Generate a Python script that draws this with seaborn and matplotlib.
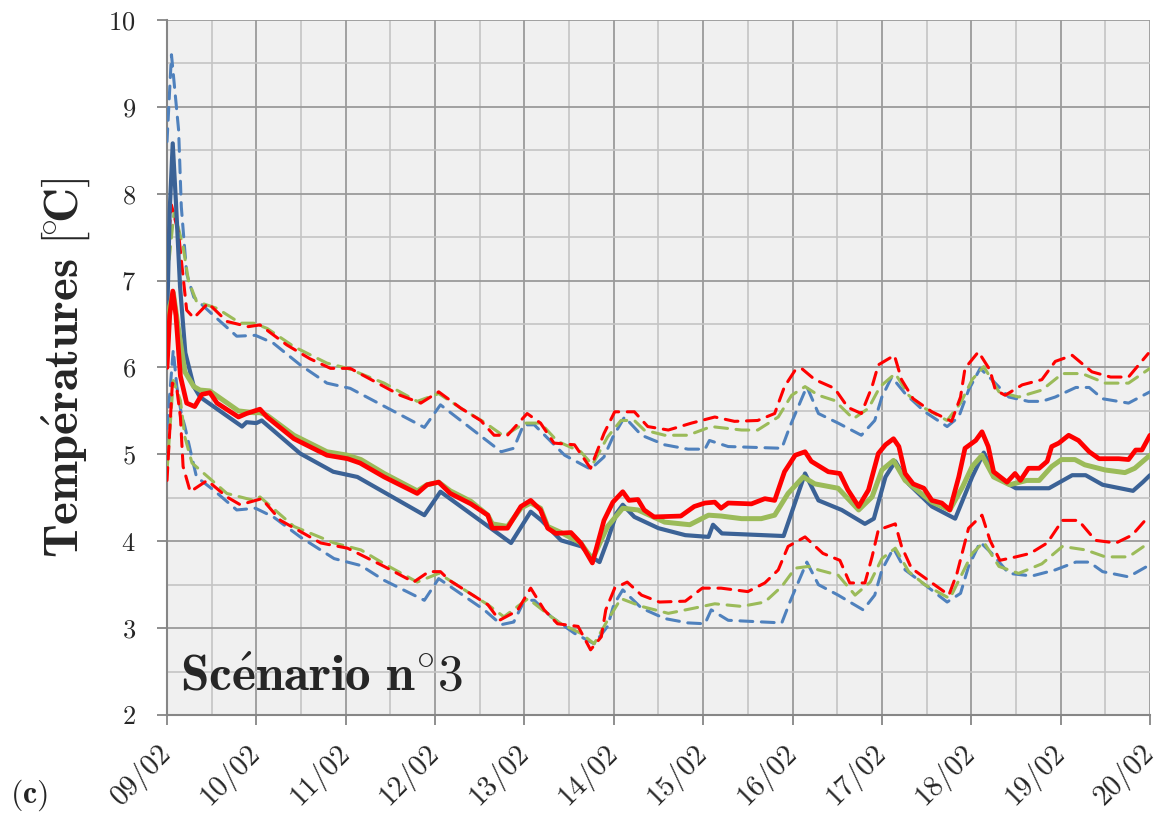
import matplotlib
matplotlib.use("Agg")
import matplotlib.pyplot as plt
import seaborn as sns
from matplotlib.ticker import MultipleLocator

# ---------------------------------------------------------------------------
# Data (time in days since 09/02, temperatures in °C)
# ---------------------------------------------------------------------------
day_labels = ["09/02", "10/02", "11/02", "12/02", "13/02", "14/02",
              "15/02", "16/02", "17/02", "18/02", "19/02", "20/02"]

t_bleu = [0, 0.03, 0.064, 0.10, 0.146, 0.205, 0.30, 0.37, 0.84, 0.89,
          1.0, 1.06, 1.49, 1.86, 2.13, 2.88, 3.06, 3.85, 4.07, 4.19,
          4.41, 4.64, 4.75, 4.84, 4.93, 5.03, 5.10, 5.23, 5.50, 5.80,
          6.06, 6.11, 6.21, 6.90, 7.14, 7.29, 7.55, 7.81, 7.91, 8.04,
          8.15, 8.30, 8.56, 8.82, 9.01, 9.14, 9.27, 9.50, 9.87, 10.13,
          10.28, 10.47, 10.81, 10.92, 11.0]
bleu = [6.5, 7.8, 8.58, 7.9, 6.93, 6.17, 5.78, 5.66, 5.32, 5.37,
        5.36, 5.39, 5.01, 4.80, 4.74, 4.30, 4.57, 3.98, 4.34, 4.24,
        4.01, 3.94, 3.82, 3.76, 4.01, 4.32, 4.42, 4.28, 4.15, 4.07,
        4.05, 4.19, 4.09, 4.06, 4.78, 4.47, 4.36, 4.20, 4.26, 4.74,
        4.92, 4.66, 4.40, 4.26, 4.74, 5.02, 4.74, 4.61, 4.61, 4.76,
        4.76, 4.65, 4.58, 4.68, 4.76]

t_vert = [0, 0.03, 0.07, 0.12, 0.20, 0.30, 0.37, 0.48, 0.80, 0.97,
          1.04, 1.12, 1.42, 1.79, 2.02, 2.17, 2.43, 2.80, 2.91, 3.04,
          3.17, 3.40, 3.59, 3.64, 3.81, 3.96, 4.07, 4.18, 4.26, 4.41,
          4.63, 4.76, 4.93, 5.10, 5.27, 5.57, 5.85, 6.06, 6.20, 6.43,
          6.65, 6.80, 6.95, 7.12, 7.25, 7.51, 7.74, 7.89, 8.00, 8.13,
          8.26, 8.56, 8.76, 8.90, 9.01, 9.12, 9.25, 9.43, 9.62, 9.76,
          9.90, 10.01, 10.16, 10.27, 10.50, 10.72, 10.83, 11.0]
vert = [6.2, 6.7, 6.86, 6.5, 5.95, 5.78, 5.74, 5.73, 5.50, 5.48,
        5.48, 5.45, 5.22, 5.03, 4.99, 4.94, 4.78, 4.58, 4.65, 4.68,
        4.58, 4.46, 4.30, 4.20, 4.17, 4.38, 4.44, 4.38, 4.17, 4.10,
        3.98, 3.79, 4.17, 4.38, 4.36, 4.22, 4.19, 4.30, 4.29, 4.26,
        4.26, 4.30, 4.55, 4.74, 4.66, 4.61, 4.36, 4.51, 4.82, 4.93,
        4.70, 4.45, 4.36, 4.62, 4.86, 4.99, 4.74, 4.65, 4.70, 4.70,
        4.86, 4.94, 4.94, 4.88, 4.82, 4.79, 4.84, 4.99]

t_rouge = [0, 0.03, 0.065, 0.10, 0.15, 0.22, 0.31, 0.39, 0.48, 0.56,
           0.80, 0.89, 1.04, 1.12, 1.42, 1.79, 2.02, 2.16, 2.43, 2.80,
           2.91, 3.04, 3.17, 3.40, 3.59, 3.64, 3.81, 3.96, 4.07, 4.18,
           4.26, 4.35, 4.52, 4.63, 4.76, 4.89, 4.99, 5.10, 5.17, 5.27,
           5.34, 5.45, 5.75, 5.90, 6.02, 6.13, 6.20, 6.28, 6.54, 6.69,
           6.80, 6.91, 7.03, 7.14, 7.21, 7.40, 7.53, 7.62, 7.74, 7.85,
           7.96, 8.04, 8.13, 8.19, 8.26, 8.35, 8.47, 8.56, 8.67, 8.76,
           8.86, 8.93, 9.05, 9.12, 9.19, 9.25, 9.40, 9.49, 9.55, 9.64,
           9.76, 9.85, 9.90, 9.98, 10.09, 10.20, 10.32, 10.43, 10.65, 10.76,
           10.84, 10.91, 11.0]
rouge = [6.0, 6.6, 6.88, 6.6, 5.9, 5.59, 5.55, 5.69, 5.71, 5.59,
         5.43, 5.47, 5.52, 5.43, 5.18, 4.99, 4.95, 4.90, 4.74, 4.55,
         4.65, 4.68, 4.55, 4.43, 4.30, 4.15, 4.15, 4.40, 4.47, 4.36,
         4.15, 4.09, 4.10, 3.98, 3.75, 4.24, 4.45, 4.57, 4.47, 4.48,
         4.36, 4.28, 4.29, 4.40, 4.44, 4.45, 4.38, 4.44, 4.43, 4.49,
         4.47, 4.80, 4.99, 5.03, 4.92, 4.80, 4.78, 4.59, 4.40, 4.59,
         5.01, 5.11, 5.18, 5.09, 4.78, 4.66, 4.61, 4.47, 4.44, 4.36,
         4.74, 5.07, 5.16, 5.26, 5.09, 4.80, 4.68, 4.78, 4.70, 4.84,
         4.84, 4.92, 5.09, 5.13, 5.22, 5.16, 5.03, 4.95, 4.95, 4.94,
         5.05, 5.05, 5.22]

t_bleu_max = [0, 0.05, 0.13, 0.16, 0.22, 0.30, 0.52, 0.78, 0.99, 1.19,
              1.49, 1.79, 2.05, 2.88, 3.06, 3.74, 3.88, 3.99, 4.11, 4.45,
              4.74, 4.89, 4.99, 5.12, 5.31, 5.57, 5.83, 6.02, 6.07, 6.28,
              6.88, 6.97, 7.16, 7.29, 7.51, 7.77, 7.92, 8.00, 8.11, 8.26,
              8.48, 8.73, 8.86, 8.97, 9.10, 9.23, 9.42, 9.64, 9.79, 9.94,
              10.17, 10.32, 10.47, 10.76, 11.0]
bleu_max = [8.6, 9.6, 8.73, 7.85, 7.08, 6.81, 6.60, 6.36, 6.37, 6.28,
            6.03, 5.82, 5.76, 5.31, 5.57, 5.03, 5.07, 5.34, 5.34, 4.99,
            4.83, 4.97, 5.20, 5.43, 5.22, 5.11, 5.06, 5.06, 5.16, 5.09,
            5.07, 5.32, 5.78, 5.47, 5.36, 5.22, 5.39, 5.66, 5.89, 5.70,
            5.49, 5.32, 5.43, 5.74, 5.99, 5.86, 5.66, 5.61, 5.61, 5.66,
            5.77, 5.77, 5.64, 5.59, 5.72]

t_vert_max = [0, 0.08, 0.18, 0.24, 0.33, 0.56, 0.82, 0.97, 1.12, 1.42,
              1.79, 2.02, 2.43, 2.80, 3.04, 3.29, 3.55, 3.77, 4.00, 4.18,
              4.37, 4.63, 4.76, 4.93, 5.08, 5.23, 5.34, 5.57, 5.83, 6.09,
              6.43, 6.61, 6.84, 6.99, 7.14, 7.29, 7.47, 7.68, 7.85, 7.98,
              8.15, 8.30, 8.48, 8.73, 8.88, 9.01, 9.14, 9.31, 9.53, 9.79,
              10.02, 10.24, 10.50, 10.76, 11.0]
vert_max = [7.0, 7.8, 7.39, 7.0, 6.76, 6.68, 6.51, 6.51, 6.45, 6.24,
            6.05, 5.99, 5.82, 5.61, 5.70, 5.53, 5.37, 5.21, 5.36, 5.36,
            5.15, 5.03, 4.88, 5.20, 5.39, 5.39, 5.28, 5.22, 5.22, 5.32,
            5.28, 5.28, 5.43, 5.68, 5.78, 5.68, 5.62, 5.41, 5.53, 5.78,
            5.93, 5.68, 5.53, 5.39, 5.59, 5.86, 6.01, 5.72, 5.66, 5.74,
            5.93, 5.93, 5.82, 5.82, 5.99]

t_rouge_max = [0, 0.05, 0.13, 0.16, 0.22, 0.30, 0.46, 0.67, 0.91, 1.04,
               1.34, 1.60, 1.83, 2.05, 2.61, 2.84, 3.04, 3.29, 3.51, 3.66,
               3.81, 4.03, 4.18, 4.33, 4.56, 4.74, 4.89, 5.01, 5.23, 5.38,
               5.61, 5.87, 6.13, 6.35, 6.61, 6.80, 6.91, 7.03, 7.10, 7.25,
               7.47, 7.62, 7.77, 7.89, 7.96, 8.14, 8.22, 8.35, 8.56, 8.78,
               8.88, 8.93, 9.08, 9.21, 9.27, 9.38, 9.57, 9.79, 9.94, 10.13,
               10.35, 10.56, 10.76, 10.98]
rouge_max = [7.3, 7.87, 7.54, 7.24, 6.66, 6.57, 6.74, 6.53, 6.47, 6.49,
             6.26, 6.10, 5.99, 5.99, 5.68, 5.59, 5.72, 5.53, 5.39, 5.22,
             5.22, 5.47, 5.36, 5.13, 5.11, 4.84, 5.24, 5.49, 5.49, 5.32,
             5.28, 5.36, 5.43, 5.38, 5.39, 5.47, 5.78, 5.97, 5.99, 5.86,
             5.76, 5.54, 5.47, 5.78, 6.03, 6.14, 5.86, 5.64, 5.49, 5.38,
             5.66, 5.99, 6.18, 5.97, 5.74, 5.68, 5.80, 5.86, 6.07, 6.14,
             5.95, 5.89, 5.89, 6.16]

t_bleu_min = [0, 0.07, 0.11, 0.16, 0.20, 0.26, 0.33, 0.52, 0.78, 0.99,
              1.19, 1.49, 1.87, 2.17, 2.43, 2.88, 3.04, 3.55, 3.74, 3.88,
              4.00, 4.11, 4.30, 4.56, 4.78, 4.93, 5.00, 5.10, 5.31, 5.57,
              5.83, 6.02, 6.09, 6.28, 6.88, 6.97, 7.16, 7.29, 7.51, 7.79,
              7.92, 8.00, 8.13, 8.26, 8.48, 8.73, 8.88, 8.97, 9.10, 9.23,
              9.42, 9.68, 9.94, 10.17, 10.32, 10.47, 10.76, 11.0]
bleu_min = [5.3, 6.2, 5.78, 5.47, 5.32, 5.05, 4.74, 4.59, 4.36, 4.38,
            4.28, 4.05, 3.80, 3.72, 3.55, 3.32, 3.57, 3.21, 3.04, 3.07,
            3.32, 3.32, 3.13, 2.94, 2.82, 3.02, 3.27, 3.44, 3.23, 3.11,
            3.06, 3.05, 3.21, 3.09, 3.06, 3.30, 3.76, 3.50, 3.38, 3.21,
            3.38, 3.67, 3.92, 3.67, 3.50, 3.30, 3.40, 3.71, 3.99, 3.86,
            3.63, 3.60, 3.67, 3.76, 3.76, 3.65, 3.59, 3.73]

t_vert_min = [0, 0.07, 0.15, 0.20, 0.28, 0.67, 0.97, 1.04, 1.42, 1.87,
              2.17, 2.43, 2.80, 3.04, 3.36, 3.59, 3.77, 4.04, 4.30, 4.41,
              4.63, 4.78, 4.93, 5.08, 5.31, 5.61, 5.90, 6.13, 6.43, 6.69,
              6.88, 7.03, 7.18, 7.29, 7.51, 7.70, 7.87, 8.00, 8.15, 8.30,
              8.48, 8.76, 8.90, 9.01, 9.14, 9.31, 9.53, 9.79, 10.02, 10.28,
              10.50, 10.76, 11.0]
vert_min = [4.8, 5.85, 5.62, 5.20, 4.90, 4.55, 4.47, 4.51, 4.17, 3.98,
            3.90, 3.74, 3.53, 3.63, 3.42, 3.27, 3.13, 3.34, 3.13, 3.05,
            2.94, 2.82, 3.09, 3.34, 3.25, 3.17, 3.23, 3.28, 3.25, 3.30,
            3.48, 3.69, 3.71, 3.67, 3.61, 3.38, 3.53, 3.80, 3.92, 3.65,
            3.50, 3.34, 3.63, 3.86, 3.99, 3.71, 3.63, 3.74, 3.94, 3.90,
            3.82, 3.82, 3.99]

t_rouge_min = [0, 0.06, 0.11, 0.15, 0.18, 0.26, 0.45, 0.67, 0.82, 1.06,
               1.27, 1.53, 1.72, 2.02, 2.43, 2.76, 2.93, 3.06, 3.16, 3.36,
               3.59, 3.72, 3.92, 4.07, 4.22, 4.37, 4.60, 4.74, 4.86, 4.91,
               5.01, 5.15, 5.31, 5.51, 5.80, 5.99, 6.20, 6.50, 6.69, 6.84,
               6.95, 7.14, 7.34, 7.53, 7.64, 7.81, 7.89, 7.96, 8.15, 8.22,
               8.33, 8.56, 8.75, 8.84, 8.97, 9.12, 9.21, 9.32, 9.50, 9.66,
               9.85, 10.02, 10.20, 10.39, 10.62, 10.80, 10.98]
rouge_min = [4.7, 5.82, 5.75, 5.43, 4.86, 4.57, 4.70, 4.51, 4.42, 4.49,
             4.24, 4.09, 3.98, 3.92, 3.71, 3.53, 3.65, 3.65, 3.55, 3.42,
             3.27, 3.09, 3.20, 3.46, 3.21, 3.05, 3.02, 2.75, 2.90, 3.21,
             3.46, 3.53, 3.38, 3.30, 3.31, 3.46, 3.46, 3.42, 3.52, 3.67,
             3.94, 4.05, 3.86, 3.78, 3.52, 3.52, 3.82, 4.13, 4.20, 3.94,
             3.69, 3.52, 3.38, 3.63, 4.15, 4.30, 4.01, 3.78, 3.82, 3.86,
             3.98, 4.24, 4.24, 4.01, 3.98, 4.07, 4.28]

# ---------------------------------------------------------------------------
# Style
# ---------------------------------------------------------------------------
C_DARKBLUE = "#3b6296"
C_BLUE = "#4f81bd"
C_GREEN = "#9bbb59"
C_RED = "#ff0000"

sns.set_theme(style="ticks")
plt.rcParams["font.family"] = ["cmr10", "DejaVu Serif"]
plt.rcParams["axes.formatter.use_mathtext"] = True
plt.rcParams["mathtext.fontset"] = "cm"

fig = plt.figure(figsize=(11.63, 8.19), dpi=100)
ax = fig.add_axes([0.1436, 0.127, 0.8452, 0.8486])
ax.set_facecolor("#f0f0f0")

dash = (0, (4.2, 2.8))
bounds = [
    (t_bleu_max, bleu_max, C_BLUE), (t_bleu_min, bleu_min, C_BLUE),
    (t_vert_max, vert_max, C_GREEN), (t_vert_min, vert_min, C_GREEN),
    (t_rouge_max, rouge_max, C_RED), (t_rouge_min, rouge_min, C_RED),
]
for tt, vv, col in bounds:
    sns.lineplot(x=tt, y=vv, ax=ax, color=col, linewidth=2.2,
                 linestyle=dash, dash_capstyle="round", zorder=3)

sns.lineplot(x=t_bleu, y=bleu, ax=ax, color=C_DARKBLUE, linewidth=3.0, zorder=4)
sns.lineplot(x=t_vert, y=vert, ax=ax, color=C_GREEN, linewidth=3.6, zorder=5)
sns.lineplot(x=t_rouge, y=rouge, ax=ax, color=C_RED, linewidth=3.4, zorder=6)

# axes, grid
ax.set_xlim(0, 11)
ax.set_ylim(2, 10)
ax.xaxis.set_minor_locator(MultipleLocator(0.5))
ax.yaxis.set_major_locator(MultipleLocator(1))
ax.yaxis.set_minor_locator(MultipleLocator(0.5))
ax.tick_params(axis="y", labelsize=19, length=7.5, width=1.3, color="#868686", pad=15)
ax.tick_params(axis="x", labelsize=21, length=7.5, width=1.3, color="#868686",
               pad=17, labelrotation=45)
ax.tick_params(which="minor", length=0)
ax.set_xticks(range(len(day_labels)), labels=day_labels)
for lab in ax.get_xticklabels():
    lab.set_horizontalalignment("right")
    lab.set_verticalalignment("center")
    lab.set_rotation_mode("anchor")

ax.grid(which="major", color="#9a9a9a", linewidth=1.3, zorder=1)
ax.grid(which="minor", color="#c4c4c4", linewidth=1.2, zorder=1)
ax.set_axisbelow(True)
for side in ["left", "bottom"]:
    ax.spines[side].set_color("#868686")
    ax.spines[side].set_linewidth(1.5)
for side in ["top", "right"]:
    ax.spines[side].set_visible(False)

ax.set_xlabel("")
ax.set_ylabel(r"$\mathbf{Temp\acute{e}ratures\ [\!{}^{\circ}\!C]}$", fontsize=35,
              labelpad=12)

ax.text(0.013, 0.022, r"$\mathbf{Sc\acute{e}nario\ n{}^{\circ}3}$",
        transform=ax.transAxes, fontsize=37, va="bottom", zorder=7)
fig.text(0.009, 0.007, r"$\mathbf{(c)}$", fontsize=23, va="bottom")

fig.savefig("out.png", dpi=100)
